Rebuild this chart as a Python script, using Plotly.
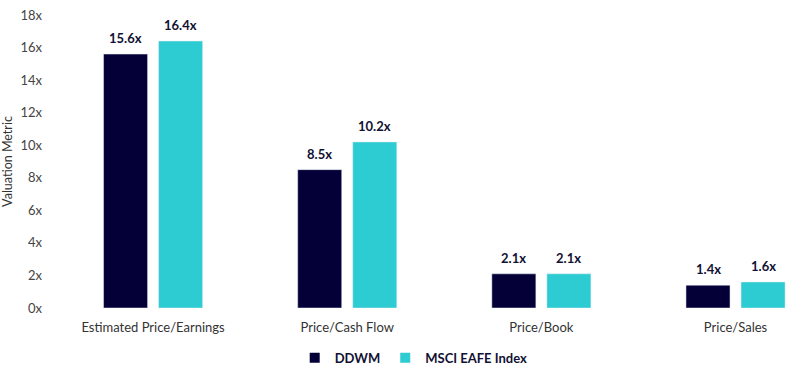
import plotly.graph_objects as go

categories = ["Estimated Price/Earnings", "Price/Cash Flow", "Price/Book", "Price/Sales"]
ddwm = [15.6, 8.5, 2.1, 1.4]
eafe = [16.4, 10.2, 2.1, 1.6]
ddwm_labels = ["15.6x", "8.5x", "2.1x", "1.4x"]
eafe_labels = ["16.4x", "10.2x", "2.1x", "1.6x"]
y_ticks = [0, 2, 4, 6, 8, 10, 12, 14, 16, 18]
y_tick_text = ["0x", "2x", "4x", "6x", "8x", "10x", "12x", "14x", "16x", "18x"]

NAVY = "#040037"
TEAL = "#2dcbd2"
FONT = "Lato, 'Open Sans', sans-serif"

fig = go.Figure()
fig.add_trace(go.Bar(name="DDWM", x=categories, y=ddwm, marker_color=NAVY, showlegend=False))
fig.add_trace(go.Bar(name="MSCI EAFE Index", x=categories, y=eafe, marker_color=TEAL, showlegend=False))
# legend-only entries with square swatches
fig.add_trace(go.Scatter(name="DDWM", x=[None], y=[None], mode="markers",
                         marker=dict(symbol="square", size=10, color=NAVY)))
fig.add_trace(go.Scatter(name="MSCI EAFE Index", x=[None], y=[None], mode="markers",
                         marker=dict(symbol="square", size=10, color=TEAL)))

annotations = []
for cat, v, t in zip(categories, ddwm, ddwm_labels):
    annotations.append(dict(x=cat, y=v, text=t, xref="x", yref="y", showarrow=False,
                            xshift=-27.5, yshift=6, yanchor="bottom",
                            font=dict(family=FONT, size=13, color="#111133", weight="bold")))
for cat, v, t in zip(categories, eafe, eafe_labels):
    annotations.append(dict(x=cat, y=v, text=t, xref="x", yref="y", showarrow=False,
                            xshift=27.5, yshift=6, yanchor="bottom",
                            font=dict(family=FONT, size=13, color="#111133", weight="bold")))

fig.update_layout(
    width=786, height=376,
    margin=dict(l=56, r=0, t=15, b=67.5),
    plot_bgcolor="white", paper_bgcolor="white",
    barmode="group", bargap=0.433, bargroupgap=0.2,
    font=dict(family=FONT, size=13, color="#333333"),
    xaxis=dict(range=[-0.5, 3.26], showgrid=False, showline=False, zeroline=False,
               ticks="", ticklabelstandoff=10, tickfont=dict(size=13, color="#333333")),
    yaxis=dict(range=[0, 18], tickvals=y_ticks, ticktext=y_tick_text, showgrid=False,
               showline=False, zeroline=False, ticks="", ticklabelstandoff=13,
               tickfont=dict(size=13, color="#444444"),
               title=dict(text="Valuation Metric", font=dict(size=12.5, color="#333333"), standoff=12)),
    legend=dict(orientation="h", x=0.49, xanchor="center", y=-0.17, yanchor="middle",
                font=dict(size=13, color="#111133", weight="bold"), itemwidth=30,
                traceorder="normal", tracegroupgap=0),
    annotations=annotations,
)

fig.write_html("out.html")
